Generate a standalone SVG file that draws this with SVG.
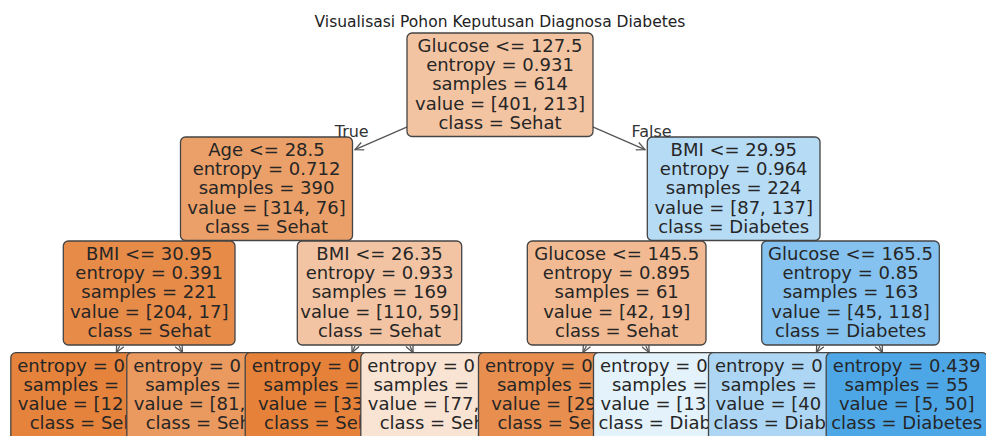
<svg xmlns="http://www.w3.org/2000/svg" width="986" height="436" viewBox="0 0 986 436">
<defs>
<marker id="ah" markerUnits="userSpaceOnUse" markerWidth="10" markerHeight="9" refX="9" refY="4.5" orient="auto" viewBox="0 0 10 9">
<path d="M0.5,0.5 L9,4.5 L0.5,8.5" fill="none" stroke="#555" stroke-width="1.3"/>
</marker>
<style>
.n rect{stroke:#444;stroke-width:1.3}
text{font-family:"DejaVu Sans","Liberation Sans",sans-serif;font-size:18px;fill:#262626}
.m{text-anchor:middle}
.title{font-size:15.5px;text-anchor:middle;fill:#222}
.lbl{font-size:16px;text-anchor:middle;fill:#333}
#edges line{stroke:#555;stroke-width:1.3;marker-end:url(#ah)}
</style>
</defs>
<rect width="986" height="436" fill="#fff"/>
<text class="title" x="500" y="26.5">Visualisasi Pohon Keputusan Diagnosa Diabetes</text>
<g id="edges">
<line x1="409" y1="126.2" x2="355" y2="149.6"/>
<line x1="591" y1="126.2" x2="645" y2="149.6"/>
<line x1="210" y1="234" x2="208" y2="241"/>
<line x1="320" y1="234" x2="322.5" y2="241"/>
<line x1="678" y1="234" x2="675.7" y2="241"/>
<line x1="789" y1="234" x2="791.6" y2="241"/>
<line x1="119.7" y1="346" x2="116.4" y2="352.5"/>
<line x1="179.1" y1="346" x2="182.4" y2="352.5"/>
<line x1="355" y1="346" x2="352" y2="352.5"/>
<line x1="410" y1="346" x2="413" y2="352.5"/>
<line x1="586.4" y1="346" x2="583" y2="352.5"/>
<line x1="645.8" y1="346" x2="649.1" y2="352.5"/>
<line x1="819.8" y1="346" x2="816.4" y2="352.5"/>
<line x1="879.2" y1="346" x2="882.4" y2="352.5"/>
</g>
<g id="node0" class="n">
<rect x="407" y="33" width="186" height="103.5" rx="5" fill="#f3c4a2"/>
<text class="m" x="500" y="52">Glucose &lt;= 127.5</text>
<text class="m" x="500" y="71.2">entropy = 0.931</text>
<text class="m" x="500" y="90.4">samples = 614</text>
<text class="m" x="500" y="109.6">value = [401, 213]</text>
<text class="m" x="500" y="128.8">class = Sehat</text>
</g>
<g id="node1" class="n">
<rect x="180.5" y="137" width="172" height="103.5" rx="5" fill="#eba069"/>
<text class="m" x="266.5" y="156">Age &lt;= 28.5</text>
<text class="m" x="266.5" y="175.2">entropy = 0.712</text>
<text class="m" x="266.5" y="194.4">samples = 390</text>
<text class="m" x="266.5" y="213.6">value = [314, 76]</text>
<text class="m" x="266.5" y="232.8">class = Sehat</text>
</g>
<g id="node2" class="n">
<rect x="63.3" y="241" width="171.7" height="104" rx="5" fill="#e78b49"/>
<text class="m" x="149.2" y="260">BMI &lt;= 30.95</text>
<text class="m" x="149.2" y="279.2">entropy = 0.391</text>
<text class="m" x="149.2" y="298.4">samples = 221</text>
<text class="m" x="149.2" y="317.6">value = [204, 17]</text>
<text class="m" x="149.2" y="336.8">class = Sehat</text>
</g>
<g id="node3" class="n">
<rect x="10.8" y="352.7" width="161" height="92" rx="5" fill="#e5833c"/>
<text x="17.3" y="371.7">entropy = 0</text>
<text x="23.4" y="390.9">samples =</text>
<text x="17.8" y="410.1">value = [12</text>
<text x="29.7" y="429.3">class = Seh</text>
</g>
<g id="node4" class="n">
<rect x="126.8" y="352.7" width="161" height="92" rx="5" fill="#ea995f"/>
<text x="133.3" y="371.7">entropy = 0</text>
<text x="145.2" y="390.9">samples =</text>
<text x="133.8" y="410.1">value = [81,</text>
<text x="145.7" y="429.3">class = Seh</text>
</g>
<g id="node5" class="n">
<rect x="297.3" y="241" width="164.4" height="104" rx="5" fill="#f3c4a3"/>
<text class="m" x="379.5" y="260">BMI &lt;= 26.35</text>
<text class="m" x="379.5" y="279.2">entropy = 0.933</text>
<text class="m" x="379.5" y="298.4">samples = 169</text>
<text class="m" x="379.5" y="317.6">value = [110, 59]</text>
<text class="m" x="379.5" y="336.8">class = Sehat</text>
</g>
<g id="node6" class="n">
<rect x="245.2" y="352.7" width="161" height="92" rx="5" fill="#e58139"/>
<text x="251.7" y="371.7">entropy = 0</text>
<text x="263.6" y="390.9">samples =</text>
<text x="257.9" y="410.1">value = [33</text>
<text x="264.1" y="429.3">class = Seh</text>
</g>
<g id="node7" class="n">
<rect x="360.8" y="352.7" width="161" height="92" rx="5" fill="#f9e3d3"/>
<text x="367.3" y="371.7">entropy = 0</text>
<text x="373.4" y="390.9">samples =</text>
<text x="367.8" y="410.1">value = [77,</text>
<text x="379.7" y="429.3">class = Seh</text>
</g>
<g id="node8" class="n">
<rect x="647.3" y="137" width="172.7" height="103.5" rx="5" fill="#b6dbf5"/>
<text class="m" x="733.7" y="156">BMI &lt;= 29.95</text>
<text class="m" x="733.7" y="175.2">entropy = 0.964</text>
<text class="m" x="733.7" y="194.4">samples = 224</text>
<text class="m" x="733.7" y="213.6">value = [87, 137]</text>
<text class="m" x="733.7" y="232.8">class = Diabetes</text>
</g>
<g id="node9" class="n">
<rect x="527.3" y="241" width="178.7" height="104" rx="5" fill="#f1ba93"/>
<text class="m" x="616.7" y="260">Glucose &lt;= 145.5</text>
<text class="m" x="616.7" y="279.2">entropy = 0.895</text>
<text class="m" x="616.7" y="298.4">samples = 61</text>
<text class="m" x="616.7" y="317.6">value = [42, 19]</text>
<text class="m" x="616.7" y="336.8">class = Sehat</text>
</g>
<g id="node10" class="n">
<rect x="478.5" y="352.7" width="161" height="92" rx="5" fill="#e88f50"/>
<text x="485" y="371.7">entropy = 0</text>
<text x="496.9" y="390.9">samples =</text>
<text x="491.2" y="410.1">value = [29</text>
<text x="497.4" y="429.3">class = Seh</text>
</g>
<g id="node11" class="n">
<rect x="593.5" y="352.7" width="161" height="92" rx="5" fill="#e4f2fb"/>
<text x="600" y="371.7">entropy = 0</text>
<text x="611.9" y="390.9">samples =</text>
<text x="600.5" y="410.1">value = [13</text>
<text x="598.4" y="429.3">class = Diab</text>
</g>
<g id="node12" class="n">
<rect x="761.7" y="241" width="177.6" height="104" rx="5" fill="#85c2ef"/>
<text class="m" x="850.5" y="260">Glucose &lt;= 165.5</text>
<text class="m" x="850.5" y="279.2">entropy = 0.85</text>
<text class="m" x="850.5" y="298.4">samples = 163</text>
<text class="m" x="850.5" y="317.6">value = [45, 118]</text>
<text class="m" x="850.5" y="336.8">class = Diabetes</text>
</g>
<g id="node13" class="n">
<rect x="708.5" y="352.7" width="161" height="92" rx="5" fill="#add6f4"/>
<text x="715" y="371.7">entropy = 0</text>
<text x="721.1" y="390.9">samples =</text>
<text x="715.5" y="410.1">value = [40</text>
<text x="713.4" y="429.3">class = Diab</text>
</g>
<g id="node14" class="n">
<rect x="826.2" y="352.7" width="161" height="92" rx="5" fill="#4da7e7"/>
<text class="m" x="906.7" y="371.7">entropy = 0.439</text>
<text class="m" x="906.7" y="390.9">samples = 55</text>
<text class="m" x="906.7" y="410.1">value = [5, 50]</text>
<text class="m" x="906.7" y="429.3">class = Diabetes</text>
</g>
<text class="lbl" x="351.7" y="137.3">True</text>
<text class="lbl" x="651.5" y="137.3">False</text>
</svg>
